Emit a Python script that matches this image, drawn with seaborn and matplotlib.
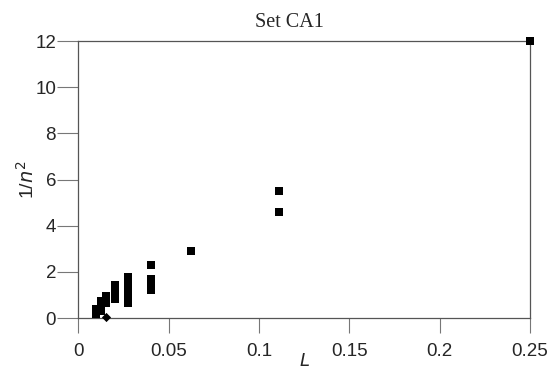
import matplotlib
matplotlib.use('Agg')
import pandas as pd
import matplotlib.pyplot as plt
import seaborn as sns

# L values are 1/n^2 for n = 2..10
L_vals = [0.25, 1/9, 1/9, 1/16,
          0.04, 0.04, 0.04, 0.04, 0.04,
          1/36, 1/36, 1/36, 1/36, 1/36, 1/36, 1/36,
          1/49, 1/49, 1/49, 1/49,
          1/64, 1/64, 1/64,
          1/81, 1/81, 1/81, 1/81,
          0.01, 0.01, 0.01]
inv_n2 = [12.0, 5.5, 4.6, 2.9,
          2.3, 1.7, 1.5, 1.35, 1.2,
          1.78, 1.6, 1.4, 1.2, 1.0, 0.8, 0.65,
          1.43, 1.2, 1.0, 0.82,
          0.95, 0.8, 0.65,
          0.75, 0.6, 0.45, 0.3,
          0.4, 0.3, 0.2]
diamond_L = [0.0156]
diamond_y = [0.05]

df = pd.DataFrame({'L': L_vals, 'y': inv_n2})
df_d = pd.DataFrame({'L': diamond_L, 'y': diamond_y})

sns.set_style('white')
plt.rcParams['font.family'] = ['Liberation Sans', 'DejaVu Sans']

fig = plt.figure(figsize=(5.59, 3.73), dpi=100)
ax = fig.add_axes([0.14, 0.147, 0.808, 0.743])

sns.scatterplot(data=df, x='L', y='y', marker='s', s=36, color='black',
                edgecolor='black', linewidth=0, ax=ax, clip_on=False, zorder=3)
sns.scatterplot(data=df_d, x='L', y='y', marker='D', s=22, color='black',
                edgecolor='black', linewidth=0, ax=ax, clip_on=False, zorder=3)

ax.set_xlim(0, 0.25)
ax.set_ylim(0, 12)
ax.set_xticks([0, 0.05, 0.1, 0.15, 0.2, 0.25])
ax.set_xticklabels(['0', '0.05', '0.1', '0.15', '0.2', '0.25'])
ax.set_yticks([0, 2, 4, 6, 8, 10, 12])

for sp in ax.spines.values():
    sp.set_color('#555555')
    sp.set_linewidth(0.9)

ax.tick_params(axis='both', direction='out', width=0.8, color='#777777',
               labelsize=13.5, bottom=True, left=True)
ax.tick_params(axis='x', length=11, pad=7)
ax.tick_params(axis='y', length=15, pad=1)

ax.set_xlabel('$\\it{L}$', fontsize=13, labelpad=-5)
ax.set_ylabel('1/$\\it{n}^2$', fontsize=14, labelpad=-2)
ax.set_title('Set CA1', fontfamily='Liberation Serif', fontsize=14.5,
             x=0.467, pad=10)

fig.savefig('out.png', dpi=100)
